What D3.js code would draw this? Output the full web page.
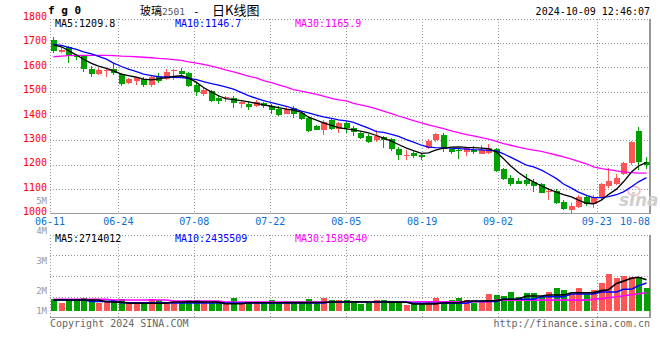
<!DOCTYPE html>
<html><head><meta charset="utf-8">
<script src="https://cdn.jsdelivr.net/npm/d3@7"></script>
<style>
body{margin:0;background:#fff}
svg{display:block}
text{font-family:"DejaVu Sans Mono",monospace;font-size:10px}
</style>
</head><body>
<svg id="c" width="660" height="360"></svg>
<script>
const dates = ["06-11","06-12","06-13","06-14","06-17","06-18","06-19","06-20","06-21","06-24","06-25","06-26","06-27","06-28",
"07-01","07-02","07-03","07-04","07-05","07-08","07-09","07-10","07-11","07-12","07-15","07-16","07-17","07-18","07-19","07-22","07-23","07-24","07-25","07-26","07-29","07-30","07-31",
"08-01","08-02","08-05","08-06","08-07","08-08","08-09","08-12","08-13","08-14","08-15","08-16","08-19","08-20","08-21","08-22","08-23","08-26","08-27","08-28","08-29","08-30",
"09-02","09-03","09-04","09-05","09-06","09-09","09-10","09-11","09-12","09-13","09-18","09-19","09-20","09-23","09-24","09-25","09-26","09-27","09-30",
"10-08","10-09"];
const tickDates = ["06-11","06-24","07-08","07-22","08-05","08-19","09-02","09-23","10-08"];
const gridDates = ["06-24","07-08","07-22","08-05","08-19","09-02","09-23"];
const priceTicks = [1000,1100,1200,1300,1400,1500,1600,1700,1800];
const volTicks = [1,2,3,4,5];

const open = [1712,1663,1684,1651,1646,1594,1572,1585,1592,1572,
 1534,1545,1553,1529,1564,1551,1585,1586,1576,1527,
 1492,1503,1475,1473,1473,1451,1451,1442,1453,1440,
 1429,1410,1434,1412,1393,1358,1344,1385,1347,1371,
 1350,1330,1319,1303,1314,1306,1265,1239,1250,1241,
 1267,1300,1322,1265,1262,1251,1262,1245,1248,1265,
 1183,1147,1133,1139,1131,1121,1088,1093,1047,1013,
 1028,1069,1039,1063,1113,1121,1162,1206,1340,1213];
const high = [1723,1684,1688,1654,1649,1605,1597,1594,1619,1578,
 1556,1561,1559,1567,1578,1592,1593,1598,1582,1538,
 1516,1508,1486,1481,1481,1465,1462,1465,1459,1451,
 1440,1436,1442,1421,1396,1363,1385,1393,1374,1377,
 1360,1336,1327,1344,1317,1309,1273,1259,1256,1248,
 1306,1330,1330,1270,1270,1273,1278,1281,1284,1270,
 1188,1158,1144,1161,1143,1126,1103,1099,1055,1042,
 1077,1075,1075,1126,1187,1161,1212,1299,1353,1230];
const low = [1660,1657,1619,1630,1580,1561,1567,1559,1570,1523,
 1531,1526,1520,1518,1537,1548,1549,1565,1519,1483,
 1483,1456,1451,1459,1434,1434,1426,1437,1432,1410,
 1399,1407,1393,1385,1336,1341,1322,1341,1330,1330,
 1317,1306,1289,1295,1270,1256,1218,1221,1229,1221,
 1265,1295,1254,1243,1224,1237,1245,1243,1245,1172,
 1136,1112,1120,1112,1090,1083,1055,1038,1014,1001,
 1022,1031,1021,1055,1103,1116,1159,1197,1180,1181];
const close = [1668,1671,1646,1643,1594,1572,1589,1589,1575,1531,
 1551,1556,1529,1561,1545,1580,1588,1572,1524,1497,
 1508,1462,1462,1477,1453,1459,1437,1459,1442,1426,
 1404,1430,1410,1388,1339,1344,1374,1347,1371,1350,
 1336,1311,1295,1317,1300,1265,1240,1241,1236,1232,
 1297,1326,1265,1251,1256,1267,1254,1262,1267,1174,
 1142,1122,1122,1122,1113,1085,1091,1044,1020,1031,
 1069,1041,1066,1120,1133,1147,1208,1293,1210,1197];

const ma5 = [1692,1684,1668,1650,1633,1616,1605,1595,1585,1572,
 1566,1559,1551,1548,1552,1557,1562,1565,1556,1538,
 1517,1498,1483,1471,1467,1463,1458,1452,1446,1440,
 1434,1428,1424,1415,1395,1383,1372,1362,1352,1347,
 1343,1338,1331,1320,1309,1297,1283,1268,1258,1247,
 1249,1260,1268,1272,1273,1271,1270,1268,1266,1252,
 1225,1196,1168,1145,1130,1113,1100,1088,1077,1068,
 1055,1042,1040,1055,1078,1100,1130,1170,1195,1210];
const ma10 = [1694,1690,1682,1673,1663,1655,1645,1633,1617,1603,
 1592,1582,1572,1566,1561,1560,1559,1558,1554,1549,
 1541,1533,1527,1519,1510,1496,1484,1472,1463,1455,
 1448,1440,1430,1420,1413,1404,1396,1390,1384,1380,
 1374,1363,1350,1336,1333,1325,1316,1303,1293,1280,
 1272,1270,1269,1268,1266,1264,1262,1261,1259,1257,
 1245,1231,1215,1198,1191,1178,1162,1143,1121,1104,
 1088,1074,1065,1065,1069,1077,1089,1110,1130,1147];
const ma30 = [1643,1646,1648,1649,1649,1649,1649,1649,1648,1646,
 1645,1643,1641,1639,1636,1634,1631,1628,1622,1617,
 1612,1605,1597,1589,1581,1572,1564,1556,1545,1537,
 1528,1518,1508,1502,1496,1489,1482,1472,1466,1462,
 1452,1446,1438,1429,1420,1410,1400,1390,1381,1372,
 1364,1356,1348,1339,1332,1324,1318,1311,1305,1296,
 1287,1280,1272,1265,1260,1255,1248,1240,1232,1223,
 1214,1204,1191,1184,1180,1175,1171,1168,1166,1166];

// volume in millions of lots
const volume = [1.04,0.72,0.96,0.96,1.16,1.02,0.72,0.81,0.96,1.07,
 0.67,0.70,0.67,1.07,0.96,0.72,0.72,0.72,0.98,0.98,
 0.72,0.72,0.72,0.67,1.13,0.67,0.67,0.67,0.67,0.96,
 0.67,0.67,0.67,0.67,1.04,0.67,1.13,0.96,0.96,0.96,
 0.87,0.61,0.87,0.96,0.96,0.87,0.72,0.52,0.61,0.72,
 0.87,1.16,0.72,0.96,1.16,0.96,0.72,0.87,1.48,1.39,
 1.30,1.65,1.19,1.54,1.59,1.19,1.65,2.03,1.83,1.45,
 2.03,1.45,1.83,2.43,3.22,2.90,3.04,2.93,2.93,2.03];
const vma5 = [0.96,0.96,0.96,0.96,0.96,0.96,0.96,0.80,0.78,0.78,
 0.68,0.67,0.67,0.68,0.68,0.68,0.78,0.78,0.79,0.79,
 0.78,0.78,0.77,0.64,0.63,0.63,0.72,0.72,0.72,0.72,
 0.72,0.73,0.73,0.73,0.73,0.74,0.75,0.78,0.78,0.78,
 0.79,0.79,0.78,0.78,0.78,0.77,0.77,0.76,0.61,0.61,
 0.62,0.62,0.72,0.72,0.72,0.87,0.87,0.87,0.88,0.90,
 1.02,1.02,1.04,1.30,1.30,1.31,1.39,1.39,1.40,1.59,
 1.59,1.59,1.60,1.77,1.85,2.40,2.60,2.85,2.93,2.71];
const vma10 = [0.96,0.96,0.96,0.96,0.96,0.84,0.84,0.84,0.84,0.72,
 0.72,0.72,0.72,0.72,0.72,0.72,0.70,0.70,0.70,0.70,
 0.70,0.70,0.70,0.70,0.70,0.70,0.70,0.70,0.70,0.70,
 0.70,0.70,0.70,0.70,0.70,0.70,0.70,0.78,0.78,0.78,
 0.78,0.78,0.78,0.78,0.78,0.78,0.78,0.78,0.67,0.67,
 0.67,0.67,0.67,0.67,0.67,0.67,0.84,0.84,0.84,0.84,
 1.02,1.02,1.02,1.02,1.02,1.24,1.24,1.24,1.24,1.48,
 1.48,1.48,1.48,1.65,1.65,1.65,1.89,1.89,2.20,2.44];
const vma30 = [1.02,1.02,1.02,1.02,1.02,1.02,1.02,1.02,0.96,0.96,
 0.96,0.96,0.96,0.96,0.96,0.96,0.86,0.86,0.86,0.86,
 0.86,0.86,0.86,0.78,0.78,0.78,0.78,0.78,0.78,0.78,
 0.78,0.78,0.78,0.78,0.78,0.78,0.78,0.78,0.78,0.78,
 0.78,0.78,0.78,0.78,0.78,0.78,0.78,0.78,0.78,0.80,
 0.80,0.80,0.80,0.80,0.80,0.80,0.80,0.80,0.80,0.95,
 0.95,0.95,0.95,0.95,0.95,0.95,0.95,0.95,0.95,0.95,
 0.95,0.95,1.02,1.08,1.15,1.24,1.33,1.42,1.50,1.59];

const maLegend = [["MA5:1209.8","#000"],["MA10:1146.7","#0000ff"],["MA30:1165.9","#ff00ff"]];
const volLegend = [["MA5:2714012","#000"],["MA10:2435509","#0000ff"],["MA30:1589540","#ff00ff"]];

const RED = "#ff5555", GREEN = "#00a000", GRID = "#9a9a9a";
const svg = d3.select("#c");
const n = dates.length;
const X0 = 50, X1 = 650;
const xC = d3.scaleLinear().domain([0, n]).range([X0, X1]);       // candle slots
const xG = d3.scaleLinear().domain([0, n - 1]).range([X0, X1]);   // date grid / labels
const yP = d3.scaleLinear().domain([1000, 1800]).range([213.5, 18.5]);
const yV = d3.scaleLinear().domain([0, 6.7]).range([311, 234]);
const yVGrid = d3.scaleLinear().domain([0, 4]).range([317.5, 234.5]);
const yVLab = d3.scaleLinear().domain([2, 5]).range([293.5, 203.5]);

const g = svg.append("g");
const dotted = (sel) => sel.attr("stroke", GRID).attr("stroke-width", 1).attr("stroke-dasharray", "1,2").attr("shape-rendering", "crispEdges");

g.selectAll(".hg").data(priceTicks.filter(v => v > 1000)).enter().append("line")
  .attr("x1", X0).attr("x2", X1).attr("y1", d => Math.round(yP(d)) + 0.5).attr("y2", d => Math.round(yP(d)) + 0.5).call(dotted);
g.selectAll(".vg").data([1, 2, 3, 4]).enter().append("line")
  .attr("x1", X0).attr("x2", X1).attr("y1", d => Math.round(yVGrid(d)) + 0.5).attr("y2", d => Math.round(yVGrid(d)) + 0.5).call(dotted);
const gx = d => Math.round(xG(dates.indexOf(d))) + 0.5;
g.selectAll(".vgm").data(gridDates).enter().append("line")
  .attr("x1", gx).attr("x2", gx).attr("y1", 19).attr("y2", 213).call(dotted);
g.selectAll(".vgv").data(gridDates).enter().append("line")
  .attr("x1", gx).attr("x2", gx).attr("y1", 235).attr("y2", 317).call(dotted);
g.append("line").attr("x1", 50.5).attr("x2", 50.5).attr("y1", 18.5).attr("y2", 213.5).call(dotted);
g.append("line").attr("x1", 50.5).attr("x2", 50.5).attr("y1", 234.5).attr("y2", 317.5).call(dotted);

const solid = (sel) => sel.attr("stroke", "#999").attr("stroke-width", 1.5).attr("shape-rendering", "crispEdges");
g.append("line").attr("x1", 650).attr("x2", 650).attr("y1", 18.5).attr("y2", 214).call(solid);
g.append("line").attr("x1", 50).attr("x2", 650.5).attr("y1", 213.5).attr("y2", 213.5).call(solid);
g.append("line").attr("x1", 650).attr("x2", 650).attr("y1", 234.5).attr("y2", 318).call(solid);
g.append("line").attr("x1", 50).attr("x2", 650.5).attr("y1", 317.5).attr("y2", 317.5).call(solid);

// watermark
const wm = svg.append("g");
wm.append("ellipse").attr("cx", 634).attr("cy", 191).attr("rx", 6).attr("ry", 4.5).attr("fill", "none").attr("stroke", "#f2b8b8").attr("stroke-width", 1.5);
wm.append("text").attr("x", 619).attr("y", 206).attr("fill", "#cfcfcf").style("font-family", "DejaVu Sans").style("font-size", "17px").style("font-style", "italic").style("font-weight", "bold").text("sina");

// candles
const data = dates.map((d, i) => ({i, o: open[i], h: high[i], l: low[i], c: close[i], v: volume[i]}));
const col = d => d.c >= d.o ? RED : GREEN;
const cg = svg.append("g").attr("shape-rendering", "crispEdges");
cg.selectAll(".wick").data(data).enter().append("rect")
  .attr("x", d => Math.round(xC(d.i)) + 3).attr("width", 1)
  .attr("y", d => yP(d.h)).attr("height", d => Math.max(1, yP(d.l) - yP(d.h)))
  .attr("fill", col);
cg.selectAll(".body").data(data).enter().append("rect")
  .attr("x", d => Math.round(xC(d.i)) + 0.5).attr("width", 6)
  .attr("y", d => yP(Math.max(d.o, d.c))).attr("height", d => Math.max(1, Math.abs(yP(d.o) - yP(d.c))))
  .attr("fill", col);

const cx = i => Math.round(xC(i)) + 3.5;
const lineP = d3.line().x((d, i) => cx(i)).y(d => yP(d));
[[ma30, "#ff00ff"], [ma10, "#0000ff"], [ma5, "#000"]].forEach(([arr, c]) => {
  svg.append("path").datum(arr).attr("d", lineP).attr("fill", "none").attr("stroke", c).attr("stroke-width", 1.3);
});

cg.selectAll(".vol").data(data).enter().append("rect")
  .attr("x", d => Math.round(xC(d.i)) + 0.5).attr("width", 6)
  .attr("y", d => yV(d.v)).attr("height", d => yV(0) - yV(d.v))
  .attr("fill", col);
const lineV = d3.line().x((d, i) => cx(i)).y(d => yV(d));
[[vma30, "#ff00ff"], [vma10, "#0000ff"], [vma5, "#000"]].forEach(([arr, c]) => {
  svg.append("path").datum(arr).attr("d", lineV).attr("fill", "none").attr("stroke", c).attr("stroke-width", 1.6);
});

// axis labels
const t = svg.append("g");
t.selectAll(".py").data(priceTicks).enter().append("text")
  .attr("x", 47).attr("y", d => yP(d) + 1.6).attr("text-anchor", "end").attr("fill", "#ff0000").text(d => d);
t.selectAll(".vy").data(volTicks).enter().append("text")
  .attr("x", 47).attr("y", d => Math.min(313, yVLab(d)) + 0.5).attr("text-anchor", "end").attr("fill", "#999")
  .style("font-size", "9px").text(d => d + "M");
t.selectAll(".dx").data(tickDates).enter().append("text")
  .attr("x", d => { const x = xG(dates.indexOf(d)); return Math.min(x, 650 - 15); })
  .attr("y", 225).attr("text-anchor", "middle").attr("fill", "#0a6fcf").text(d => d);

const lx = [55, 175, 295];
t.selectAll(".lg").data(maLegend).enter().append("text")
  .attr("x", (d, i) => lx[i]).attr("y", 27.3).attr("fill", d => d[1]).text(d => d[0]);
t.selectAll(".vlg").data(volLegend).enter().append("text")
  .attr("x", (d, i) => lx[i]).attr("y", 241.7).attr("fill", d => d[1]).text(d => d[0]);

t.append("text").attr("x", 48).attr("y", 14).style("font-size", "11px").style("font-weight", "bold").text("f g 0");
const tt = t.append("text").attr("y", 14.5);
tt.append("tspan").attr("x", 140).style("font-family", "'Noto Sans CJK SC'").style("font-size", "11px").text("玻璃");
tt.append("tspan").attr("x", 162).style("font-size", "9.5px").attr("fill", "#555").text("2501");
tt.append("tspan").attr("x", 193).style("font-size", "11px").text("-");
tt.append("tspan").attr("x", 212).style("font-family", "'Noto Sans CJK SC'").style("font-size", "13px").text("日K线图");
t.append("text").attr("x", 650).attr("y", 15).attr("text-anchor", "end").text("2024-10-09 12:46:07");

t.append("text").attr("x", 50).attr("y", 327).attr("fill", "#666").text("Copyright 2024 SINA.COM");
t.append("text").attr("x", 650).attr("y", 327).attr("text-anchor", "end").attr("fill", "#666").text("http://finance.sina.com.cn");
</script>
</body></html>
